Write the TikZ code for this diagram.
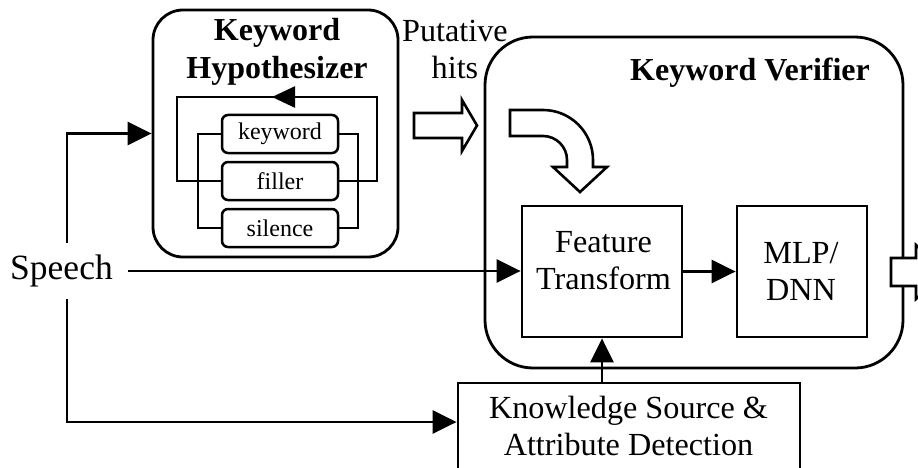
\documentclass[tikz,border=0pt]{standalone}
\usepackage{fontspec}
\setmainfont{Liberation Serif}
\usetikzlibrary{arrows.meta}

\begin{document}
\begin{tikzpicture}[x=1pt, y=-1pt, line width=2.8pt,
  arr/.style={-{Triangle[length=24pt,width=23pt]}},
  bigbox/.style={draw, rounded corners=#1, inner sep=0pt},
  block/.style={draw, inner sep=0pt},
  small/.style={draw, rounded corners=6pt, line width=2.5pt, inner sep=0pt,
    minimum width=116pt, minimum height=38pt, font=\fontsize{24}{28}\selectfont},
  title/.style={inner sep=0pt, align=center, font=\fontsize{32}{38}\selectfont\bfseries},
  txt/.style={inner sep=0pt, align=center, font=\fontsize{32.2}{37}\selectfont},
  hollow/.style={draw, fill=white, line width=2.6pt, line join=miter}]

\clip (0,0) rectangle (918,468);

% Keyword hypothesizer
\node[bigbox=30pt, minimum width=245pt, minimum height=247pt] (hyp) at (275.5,133.5) {};
\node[title] (hyptitle) at (277,51.5) {Keyword\\Hypothesizer};
\node[small] (kw) at (280,134) {keyword};
\node[small] (fl) at (280,181) {filler};
\node[small] (sl) at (280,228) {silence};

% loops around the filler and keyword/silence models
\draw[line width=2.5pt] (fl.west) -- (177,181) -- (177,97) -- (377,97) -- (377,181) -- (fl.east);
\draw[line width=2.5pt] (kw.west) -- (198,134) -- (198,228) -- (sl.west);
\draw[line width=2.5pt] (kw.east) -- (358,134) -- (358,228) -- (sl.east);
\draw[line width=2.5pt, -{Triangle[length=23pt,width=21pt]}] (300,97) -- (272,97);

% putative hits
\node[txt] (puttxt) at (455,49.5) {Putative\\hits};
\draw[hollow] (414,113) -- (462,113) -- (462,100) -- (477,125.5) -- (462,151)
  -- (462,138) -- (414,138) -- cycle;

% Keyword verifier
\node[bigbox=48pt, minimum width=418pt, minimum height=331pt] (ver) at (694,202.5) {};
\node[title] (vertitle) at (750,72.5) {Keyword Verifier};
\draw[hollow] (510,110) -- (543,110) arc[start angle=90, end angle=0, radius=50pt]
  -- (593,167) -- (607,167) -- (580,192) -- (553,167) -- (567,167) -- (567,160)
  arc[start angle=0, end angle=90, radius=24pt] -- (510,136) -- cycle;

\node[block, minimum width=160pt, minimum height=131pt] (ft) at (602,271.5) {};
\node[txt] (fttxt) at (603.5,261) {Feature\\Transform};
\node[block, minimum width=130pt, minimum height=131pt] (mlp) at (802,271.5) {};
\node[txt] (mlptxt) at (801,271.5) {MLP/\\DNN};

% output arrow leaving the verifier
\draw[hollow] (891,258) -- (916,258) -- (916,245) -- (946,272) -- (916,299)
  -- (916,286) -- (891,286) -- cycle;

% knowledge source
\node[block, minimum width=342pt, minimum height=100pt] (ks) at (629,433) {};
\node[txt] (kstxt) at (628.5,426) {Knowledge Source \&\\Attribute Detection};

% speech input
\node[inner xsep=14pt, inner ysep=0pt, minimum height=53pt,
  font=\fontsize{35.5}{40}\selectfont] (speech) at (61.5,271) {Speech};

\draw[arr] ([xshift=5.5pt]speech.north) |- (hyp.west);
\draw[arr] ([xshift=5.5pt]speech.south) |- ([yshift=11pt]ks.west);
\draw[arr] (speech.east) -- (speech.east -| ft.west);
\draw[arr] (ft.east) -- (mlp.west);
\draw[arr] (ft.south |- ks.north) -- (ft.south);

\end{tikzpicture}
\end{document}
